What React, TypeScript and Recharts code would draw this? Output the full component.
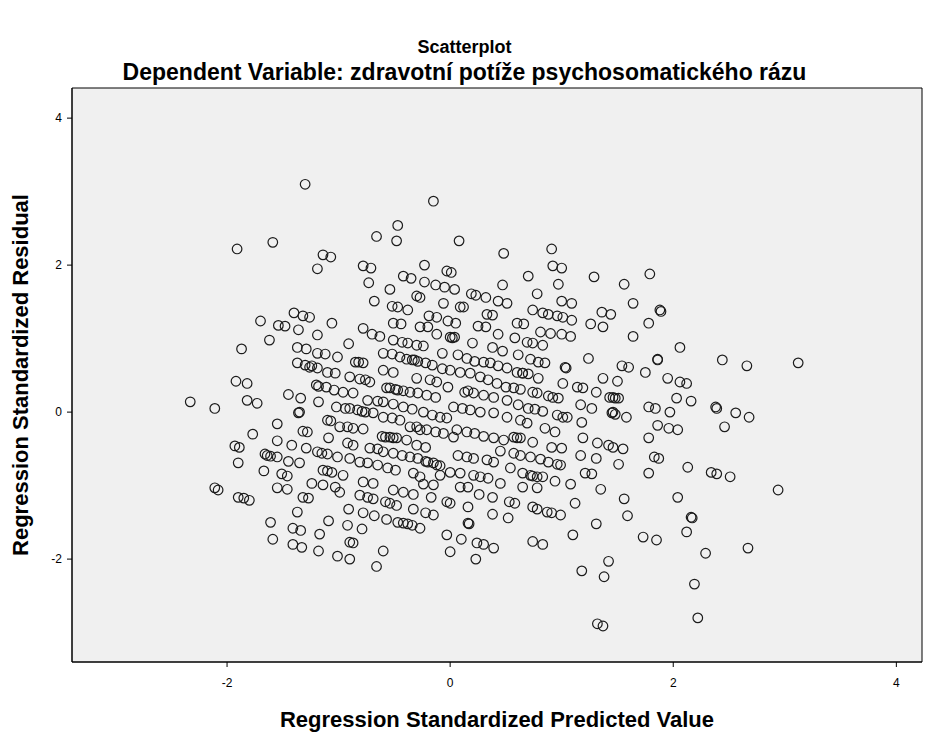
import React from 'react';
import { ScatterChart, Scatter, XAxis, YAxis, ReferenceArea, CartesianGrid } from 'recharts';

type P = { x: number; y: number };
const toPts = (arr: number[][]): P[] => arr.map(([x, y]) => ({ x, y }));

const xTicks = [-2, 0, 2, 4];
const yTicks = [-2, 0, 2, 4];
const xDomain = [-3.39, 4.23];
const yDomain = [-3.4, 4.41];

const upperLeft = [
  [-1.3, 3.1], [-1.91, 2.22], [-1.59, 2.31], [-1.14, 2.14], [-1.07, 2.11], [-1.19, 1.95], [-1.4, 1.35], [-1.32, 1.31],
  [-1.26, 1.29], [-1.7, 1.24], [-1.54, 1.18], [-1.48, 1.17], [-1.36, 1.12], [-1.06, 1.21], [-1.19, 1.05],
];
const upperMid = [
  [-0.47, 2.54], [-0.66, 2.39], [-0.48, 2.33], [0.08, 2.33], [0.48, 2.16], [-0.78, 1.99], [-0.71, 1.96], [-0.23, 2.0],
  [-0.42, 1.85], [-0.35, 1.82], [-0.03, 1.92], [0.01, 1.9], [-0.73, 1.76], [-0.54, 1.67], [-0.23, 1.77], [-0.13, 1.73],
  [-0.05, 1.7], [0.04, 1.67], [0.47, 1.73], [-0.3, 1.58], [-0.27, 1.56], [-0.68, 1.51], [-0.06, 1.48], [0.19, 1.61],
  [0.23, 1.59], [0.32, 1.56], [0.43, 1.51], [0.51, 1.48], [-0.52, 1.44], [-0.47, 1.43], [-0.38, 1.39], [0.09, 1.43],
  [0.12, 1.43], [-0.19, 1.31], [-0.12, 1.29], [-0.02, 1.24], [0.05, 1.21], [0.33, 1.33], [0.38, 1.32], [-0.51, 1.21],
  [-0.44, 1.2], [-0.27, 1.16], [-0.2, 1.16], [0.25, 1.17], [0.32, 1.16], [-0.78, 1.14], [-0.15, 2.87],
  [-0.7, 1.06], [-0.63, 1.03], [-0.12, 1.06], [0.43, 1.06], [0.0, 1.02], [0.04, 1.02],
];
const upperRight = [
  [0.91, 2.22], [0.92, 1.99], [1.0, 1.96], [0.7, 1.85], [0.97, 1.74], [1.29, 1.84], [1.56, 1.74], [1.79, 1.88],
  [0.78, 1.61], [1.0, 1.51], [1.09, 1.48], [1.64, 1.48], [1.36, 1.36], [1.44, 1.33], [1.88, 1.39], [1.89, 1.37],
  [0.74, 1.39], [0.83, 1.35], [0.88, 1.33], [0.96, 1.31], [1.01, 1.29], [1.09, 1.25], [1.26, 1.2], [1.37, 1.16],
  [1.78, 1.21], [0.6, 1.21], [0.66, 1.2], [0.58, 1.01], [0.81, 1.09], [0.9, 1.07], [1.0, 1.06], [1.08, 1.03], [1.64, 1.03],
];
const middleLeft = [
  [-1.62, 0.98], [-1.87, 0.86], [-1.37, 0.88], [-1.29, 0.86], [-1.19, 0.8], [-1.12, 0.79], [-1.01, 0.75], [-1.37, 0.67],
  [-1.3, 0.64], [-1.26, 0.61], [-1.19, 0.6], [-1.1, 0.54], [-1.03, 0.53], [-1.92, 0.42], [-1.82, 0.39], [-1.2, 0.37],
  [-1.11, 0.34], [-1.04, 0.3], [-2.33, 0.14], [-2.11, 0.05], [-1.82, 0.16], [-1.73, 0.12], [-1.45, 0.24], [-1.34, 0.19],
  [-1.18, 0.14], [-1.02, 0.07], [-1.36, -0.01], [-1.35, 0.0], [-1.55, -0.16], [-1.1, -0.11], [-1.32, -0.26], [-1.28, -0.27],
  [-1.77, -0.3], [-1.55, -0.39], [-1.09, -0.35], [-1.93, -0.46], [-1.89, -0.48], [-1.42, -0.45], [-1.29, -0.49],
  [-1.66, -0.57], [-1.61, -0.6], [-1.55, -0.61], [-1.45, -0.67], [-1.35, -0.69], [-1.19, -0.54], [-1.1, -0.57],
  [-1.01, -0.61], [-1.9, -0.69], [-1.67, -0.8], [-1.51, -0.84], [-1.46, -0.87], [-1.24, -0.97], [-1.14, -0.79],
  [-1.06, -0.82], [-2.11, -1.03], [-2.08, -1.06], [-1.55, -1.03], [-1.46, -1.05], [-1.14, -0.99], [-1.03, -1.02],
];
const centerLeft = [
  [-0.91, 0.93], [-0.51, 0.98], [-0.43, 0.95], [-0.38, 0.94], [-0.3, 0.91], [-0.24, 0.9], [0.2, 0.94], [0.38, 0.88],
  [0.47, 0.83], [-0.07, 0.8], [-0.6, 0.8], [-0.52, 0.79], [-0.45, 0.75], [-0.39, 0.72], [-0.34, 0.71], [-0.29, 0.69],
  [-0.22, 0.67], [-0.16, 0.64], [-0.85, 0.68], [-0.78, 0.67], [0.07, 0.78], [0.15, 0.73], [0.22, 0.69], [0.3, 0.68],
  [0.36, 0.67], [0.43, 0.63], [0.51, 0.6], [-0.9, 0.48], [-0.81, 0.45], [-0.72, 0.41], [-0.6, 0.57], [-0.51, 0.54],
  [-0.3, 0.46], [-0.18, 0.44], [-0.12, 0.41], [-0.02, 0.34], [-0.07, 0.59], [0.0, 0.57], [0.09, 0.54], [0.18, 0.53],
  [0.27, 0.48], [0.34, 0.44], [0.42, 0.39], [0.5, 0.34], [-0.96, 0.27], [-0.87, 0.26], [-0.57, 0.33], [-0.49, 0.31],
  [-0.42, 0.29], [-0.36, 0.27], [-0.29, 0.26], [-0.21, 0.23], [-0.13, 0.2], [0.13, 0.27], [0.21, 0.26], [0.3, 0.23],
  [0.39, 0.2], [0.51, 0.16], [-0.74, 0.16], [-0.65, 0.15], [-0.6, 0.14], [-0.51, 0.11], [-0.42, 0.07], [-0.34, 0.04],
  [-0.9, 0.05], [-0.83, 0.03], [-0.76, 0.0], [-0.69, -0.01], [-0.6, -0.07], [-0.52, -0.08], [-0.45, -0.11],
  [-0.24, 0.0], [-0.16, -0.04], [-0.09, -0.07], [-0.03, -0.08], [0.03, 0.07], [0.11, 0.05], [0.18, 0.03], [0.27, 0.0],
  [0.39, -0.01], [0.51, -0.07], [-0.36, -0.2], [-0.3, -0.2], [-0.21, -0.24], [-0.13, -0.27], [-0.06, -0.29],
  [-0.99, -0.2], [-0.92, -0.2], [-0.87, -0.22], [-0.78, -0.23], [-0.58, -0.34], [-0.54, -0.34], [-0.48, -0.35],
  [-0.39, -0.38], [0.06, -0.24], [0.15, -0.27], [0.22, -0.29], [0.3, -0.33], [0.39, -0.35], [0.48, -0.38],
  [-0.92, -0.42], [-0.87, -0.45], [-0.3, -0.45], [-0.22, -0.48], [0.03, -0.34], [-0.72, -0.49], [-0.65, -0.5],
  [-0.6, -0.54], [-0.51, -0.56], [-0.43, -0.59], [-0.36, -0.61], [-0.29, -0.63], [-0.22, -0.67], [-0.15, -0.69],
  [-0.12, -0.72], [0.07, -0.59], [0.15, -0.61], [0.21, -0.63], [0.33, -0.65], [0.39, -0.68], [0.45, -0.53],
  [-0.9, -0.63], [-0.81, -0.68], [-0.74, -0.69], [-0.65, -0.72], [-0.56, -0.76], [-0.49, -0.79], [-0.96, -0.86],
  [-0.33, -0.83], [-0.27, -0.88], [-0.09, -0.86], [0.0, -0.82], [0.09, -0.83], [0.21, -0.86], [0.27, -0.88],
  [0.34, -0.9], [0.45, -0.97], [-0.78, -0.95], [-0.69, -0.97], [-0.24, -0.98], [-0.15, -0.99], [0.09, -1.02], [0.16, -1.02],
];
const centerRight = [
  [0.69, 0.95], [0.74, 0.94], [0.83, 0.91], [0.61, 0.78], [0.72, 0.72], [0.79, 0.68], [0.85, 0.67], [1.24, 0.73],
  [1.03, 0.61], [1.54, 0.63], [1.6, 0.61], [1.86, 0.72], [1.75, 0.54], [0.6, 0.54], [0.65, 0.53], [0.7, 0.52],
  [0.79, 0.46], [0.63, 0.31], [0.74, 0.27], [0.78, 0.26], [0.88, 0.22], [0.92, 0.2], [0.97, 0.19], [1.01, 0.39],
  [1.14, 0.34], [1.19, 0.33], [1.37, 0.46], [1.5, 0.42], [1.31, 0.27], [1.43, 0.2], [1.48, 0.19], [1.51, 0.19],
  [1.95, 0.46], [0.61, 0.1], [0.7, 0.05], [0.76, 0.04], [0.83, 0.01], [0.96, -0.04], [1.01, -0.07], [1.05, -0.07],
  [1.17, 0.1], [1.27, 0.05], [1.45, -0.01], [1.46, 0.0], [1.48, -0.03], [1.58, -0.07], [1.78, 0.07], [1.84, 0.05],
  [1.97, 0.0], [0.63, -0.11], [0.69, -0.15], [0.85, -0.22], [0.94, -0.27], [1.18, -0.14], [1.86, -0.18], [1.96, -0.22],
  [0.57, -0.34], [0.63, -0.35], [0.74, -0.41], [0.91, -0.48], [1.0, -0.49], [1.19, -0.35], [1.32, -0.42], [1.42, -0.45],
  [1.46, -0.48], [1.55, -0.5], [1.78, -0.35], [0.57, -0.56], [0.63, -0.59], [0.72, -0.61], [0.81, -0.64], [0.88, -0.68],
  [0.96, -0.71], [0.99, -0.72], [1.17, -0.59], [1.31, -0.63], [1.51, -0.71], [1.83, -0.61], [1.87, -0.63], [0.54, -0.76],
  [0.65, -0.83], [0.72, -0.86], [0.78, -0.88], [0.83, -0.88], [1.21, -0.83], [1.27, -0.84], [0.94, -0.94], [1.08, -0.98],
  [1.78, -0.83], [0.65, -1.02], [0.78, -1.03], [1.35, -1.05],
];
const denseOverlaps = [
  [-0.82, 0.68], [-0.54, 0.33], [-0.47, 0.3], [0.16, 0.29], [-0.61, -0.33], [-0.51, -0.35], [-0.2, -0.68],
  [-0.09, -0.73], [0.02, 1.01], [-0.32, 0.71], [-0.94, 0.05], [-0.79, 0.01], [-0.27, -0.24], [-0.76, 0.44],
  [0.57, 0.33], [1.46, 0.2], [0.6, -0.35], [0.74, -0.87], [0.65, 0.53], [1.04, 0.6], [1.86, 0.71],
  [-1.64, -0.59], [-1.15, -0.56], [-1.07, -0.12], [-1.18, 0.35], [-1.24, 0.63], [-1.1, -0.8],
];
const farRight = [
  [2.06, 0.88], [2.44, 0.71], [2.66, 0.63], [3.12, 0.67], [2.06, 0.41], [2.12, 0.39], [2.03, 0.19], [2.16, 0.15],
  [2.38, 0.07], [2.39, 0.05], [2.56, -0.01], [2.68, -0.07], [2.46, -0.2], [2.04, -0.24], [2.13, -0.75], [2.34, -0.82],
  [2.39, -0.84], [2.51, -0.88], [2.94, -1.06], [2.16, -1.43], [2.17, -1.44], [2.12, -1.63], [2.29, -1.92], [2.67, -1.85],
  [2.19, -2.34], [2.22, -2.8], [2.04, -1.16],
];
const lowerLeft = [
  [-1.9, -1.16], [-1.85, -1.17], [-1.8, -1.2], [-1.32, -1.16], [-1.27, -1.17], [-1.37, -1.36], [-1.61, -1.5],
  [-1.41, -1.58], [-1.34, -1.61], [-1.09, -1.48], [-1.17, -1.66], [-1.59, -1.73], [-1.41, -1.8], [-1.33, -1.84],
  [-1.18, -1.89], [-1.01, -1.96],
];
const lowerMid = [
  [-0.99, -1.09], [-0.81, -1.13], [-0.74, -1.16], [-0.69, -1.18], [-0.58, -1.22], [-0.54, -1.24], [-0.48, -1.27],
  [-0.42, -1.09], [-0.33, -1.12], [-0.51, -1.06], [-0.17, -1.16], [-0.03, -1.22], [0.0, -1.24], [0.26, -1.12],
  [0.38, -1.16], [0.53, -1.22], [-0.91, -1.32], [-0.78, -1.37], [-0.68, -1.41], [-0.57, -1.46], [-0.47, -1.5],
  [-0.42, -1.51], [-0.38, -1.52], [-0.34, -1.54], [-0.27, -1.58], [-0.33, -1.32], [-0.22, -1.37], [-0.15, -1.4],
  [0.16, -1.29], [0.38, -1.39], [0.52, -1.44], [0.16, -1.51], [0.17, -1.52], [-0.92, -1.54], [-0.79, -1.59],
  [-0.03, -1.67], [0.1, -1.73], [-0.9, -1.77], [-0.87, -1.78], [0.24, -1.78], [0.3, -1.8], [0.39, -1.85],
  [-0.6, -1.89], [-0.9, -2.0], [0.0, -1.9], [0.23, -2.0], [-0.66, -2.1],
];
const lowerRight = [
  [0.58, -1.24], [0.74, -1.29], [0.78, -1.32], [0.87, -1.36], [0.91, -1.37], [0.99, -1.4], [1.12, -1.24], [1.56, -1.18],
  [1.59, -1.41], [1.31, -1.52], [1.1, -1.67], [0.74, -1.76], [0.83, -1.8], [1.73, -1.7], [1.85, -1.74], [1.42, -2.03],
  [1.18, -2.16], [1.38, -2.24], [1.32, -2.88], [1.37, -2.91],
];

const groups = [upperLeft, upperMid, upperRight, middleLeft, centerLeft, centerRight, denseOverlaps, farRight, lowerLeft, lowerMid, lowerRight];
const allPoints: P[] = groups.flatMap(toPts);

const font = '"Liberation Sans", Arial, sans-serif';

const Ring = (props: any) => {
  const { cx, cy } = props;
  if (cx == null || cy == null) return null;
  return <circle cx={cx} cy={cy} r={4.8} fill="none" stroke="#1c1c1c" strokeWidth={1.2} />;
};

export default function App() {
  return (
    <div style={{ position: 'absolute', left: 0, top: 0, width: 929, height: 740, background: '#fff', fontFamily: font }}>
      <div style={{ position: 'absolute', left: 0, width: 929, top: 37, lineHeight: '20px', textAlign: 'center', fontWeight: 'bold', fontSize: 18, color: '#000' }}>
        Scatterplot
      </div>
      <div style={{ position: 'absolute', left: 0, width: 929, top: 60, lineHeight: '24px', textAlign: 'center', fontWeight: 'bold', fontSize: 23, color: '#000' }}>
        Dependent Variable: zdravotní potíže psychosomatického rázu
      </div>
      <div style={{ position: 'absolute', left: 72, width: 850, top: 708, lineHeight: '24px', textAlign: 'center', fontWeight: 'bold', fontSize: 22, color: '#000' }}>
        Regression Standardized Predicted Value
      </div>
      <div style={{ position: 'absolute', left: 21, top: 375, width: 0, height: 0 }}>
        <div style={{ position: 'absolute', left: 0, top: 0, lineHeight: '24px', transform: 'translate(-50%, -50%) rotate(-90deg)', whiteSpace: 'nowrap', fontWeight: 'bold', fontSize: 22, color: '#000' }}>
          Regression Standardized Residual
        </div>
      </div>
      <div style={{ position: 'absolute', left: 0, top: 0 }}>
        <ScatterChart width={929} height={740} margin={{ top: 88, right: 7, bottom: 48, left: 12 }}>
          <CartesianGrid horizontal={false} vertical={false} fill="#f0f0f0" />
          <ReferenceArea x1={xDomain[0]} x2={xDomain[1]} y1={yDomain[0]} y2={yDomain[1]} fill="none" stroke="#000" strokeWidth={1} />
          <XAxis type="number" dataKey="x" domain={xDomain} ticks={xTicks} allowDataOverflow height={30}
            tickSize={5} stroke="#000" tick={{ fill: '#000', fontSize: 12, fontFamily: font }} tickMargin={11} />
          <YAxis type="number" dataKey="y" domain={yDomain} ticks={yTicks} allowDataOverflow width={60}
            tickSize={5} stroke="#000" tick={{ fill: '#000', fontSize: 12, fontFamily: font }} tickMargin={5} />
          <Scatter data={allPoints} shape={Ring} isAnimationActive={false} />
        </ScatterChart>
      </div>
    </div>
  );
}
